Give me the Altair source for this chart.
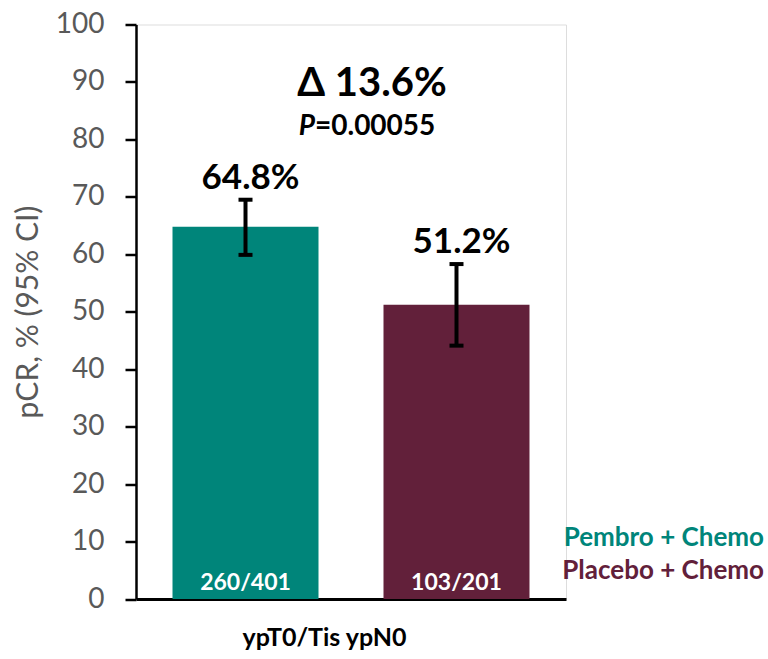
import altair as alt
import pandas as pd

# ---- data ----
groups = ["Pembro + Chemo", "Placebo + Chemo"]
pcr = [64.8, 51.2]
ci_low = [59.9, 44.1]
ci_high = [69.5, 58.3]
counts = ["260/401", "103/201"]
pct_labels = ["64.8%", "51.2%"]
colors = ["#00857A", "#62203A"]
y_ticks = [0, 10, 20, 30, 40, 50, 60, 70, 80, 90, 100]
delta_text = "Δ 13.6%"
p_label = "P"
p_value_text = "=0.00055"
x_title = "ypT0/Tis ypN0"
y_title = "pCR, % (95% CI)"

df = pd.DataFrame({
    "group": groups,
    "pcr": pcr,
    "lo": ci_low,
    "hi": ci_high,
    "count": counts,
    "pct": pct_labels,
})

FONT = "Lato"
GREY = "#595959"

x_enc = alt.X(
    "group:N",
    sort=groups,
    scale=alt.Scale(paddingInner=0.308, paddingOuter=0.173),
    axis=alt.Axis(
        labels=False, ticks=False, title=x_title,
        domainColor="black", domainWidth=3,
        titleFont=FONT, titleFontSize=25, titleFontWeight="bold", titleColor="black",
        titleX=188, titleY=46, titleBaseline="alphabetic", titleAlign="center",
    ),
)
y_scale = alt.Scale(domain=[0, 100], nice=False)
y_enc = alt.Y(
    "pcr:Q",
    scale=y_scale,
    axis=alt.Axis(
        values=y_ticks, grid=False, title=y_title,
        domainColor="black", domainWidth=2.5,
        tickColor="black", tickWidth=2.5, tickSize=11,
        labelColor=GREY, labelFont=FONT, labelFontSize=28, labelPadding=21,
        titleColor=GREY, titleFont=FONT, titleFontSize=30, titleFontWeight="normal",
        titleX=-93, titleY=287, titleAngle=270, titleBaseline="bottom", titleAlign="center",
    ),
)
color_enc = alt.Color("group:N", scale=alt.Scale(domain=groups, range=colors), legend=None)

base = alt.Chart(df)

bars = base.mark_bar().encode(x=x_enc, y=y_enc, color=color_enc)

err_rule = base.mark_rule(color="black", strokeWidth=4).encode(
    x=alt.X("group:N", sort=groups), y=alt.Y("lo:Q", scale=y_scale), y2="hi:Q"
)
cap_lo = base.mark_tick(color="black", size=14, thickness=4, opacity=1).encode(
    x=alt.X("group:N", sort=groups), y=alt.Y("lo:Q", scale=y_scale)
)
cap_hi = base.mark_tick(color="black", size=14, thickness=4, opacity=1).encode(
    x=alt.X("group:N", sort=groups), y=alt.Y("hi:Q", scale=y_scale)
)

pct_text = base.mark_text(
    font=FONT, fontSize=35, fontWeight="bold", color="black",
    baseline="alphabetic", dy=-11, dx=5,
).encode(x=alt.X("group:N", sort=groups), y=alt.Y("hi:Q", scale=y_scale), text="pct:N")

count_text = base.mark_text(
    font=FONT, fontSize=23, fontWeight="bold", color="white",
    baseline="alphabetic", dy=-9,
).encode(x=alt.X("group:N", sort=groups), y=alt.datum(0), text="count:N")

delta = alt.Chart(pd.DataFrame({"t": [delta_text]})).mark_text(
    font=FONT, fontSize=40, fontWeight="bold", color="black",
    baseline="alphabetic", align="center",
).encode(x=alt.value(236), y=alt.datum(87.6), text="t:N")

p_it = alt.Chart(pd.DataFrame({"t": [p_label]})).mark_text(
    font=FONT, fontSize=28, fontWeight="bold", fontStyle="italic", color="black",
    baseline="alphabetic", align="right",
).encode(x=alt.value(179), y=alt.datum(80.8), text="t:N")

p_val = alt.Chart(pd.DataFrame({"t": [p_value_text]})).mark_text(
    font=FONT, fontSize=28, fontWeight="bold", color="black",
    baseline="alphabetic", align="left",
).encode(x=alt.value(179), y=alt.datum(80.8), text="t:N")

legend_df = pd.DataFrame({"group": groups, "ly": [9.2, 3.5]})
legend_text = alt.Chart(legend_df).mark_text(
    font=FONT, fontSize=26, fontWeight="bold", baseline="alphabetic", align="right",
).encode(
    x=alt.value(628),
    y=alt.Y("ly:Q", scale=y_scale),
    text="group:N",
    color=color_enc,
)

chart = alt.layer(
    bars, err_rule, cap_lo, cap_hi, pct_text, count_text, delta, p_it, p_val, legend_text
).properties(
    width=430,
    height=574.5,
    autosize=alt.AutoSizeParams(type="none"),
    padding={"left": 136, "top": 24.5, "right": 202, "bottom": 60},
).configure_view(stroke=None).configure(background="white")

chart.save("out.html", embed_options={"renderer": "svg", "actions": False})
